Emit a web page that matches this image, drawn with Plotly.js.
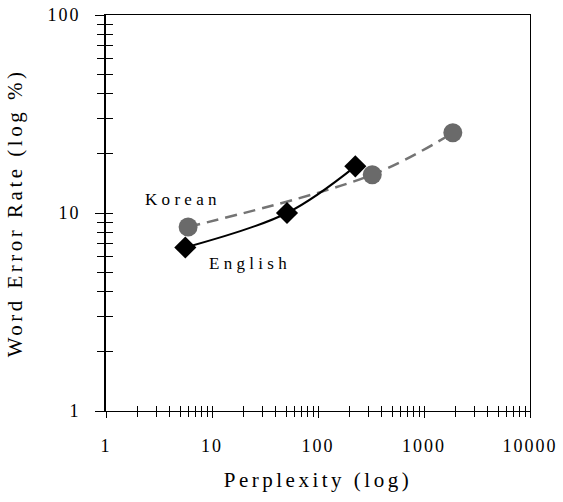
<!DOCTYPE html>
<html>
<head>
<meta charset="utf-8">
<script src="https://cdn.plot.ly/plotly-3.0.1.min.js"></script>
<style>
  html, body { margin: 0; padding: 0; background: #fff; }
  #chart { width: 563px; height: 502px; }
  .xtick text, .ytick text { letter-spacing: 2px; }
  .g-xtitle text, .g-ytitle text { letter-spacing: 3.5px; }
  .annotation-text { letter-spacing: 4.3px; }
</style>
</head>
<body>
<div id="chart"></div>
<script>
// Data (log-log)
const englishPerplexity = [5.6, 51, 225];
const englishWER = [6.7, 10.0, 17.2];
const koreanPerplexity = [5.95, 325, 1870];
const koreanWER = [8.5, 15.6, 25.4];
const xTickVals = [1, 10, 100, 1000, 10000];
const xTickText = ['1', '10', '100', '1000', '10000'];
const yTickVals = [1, 10, 100];
const yTickText = ['1', '10', '100'];
const tickDigits = [1, 2, 3, 4, 5, 6, 7, 8, 9];

// all 1..9 positions in each decade (for the inner half of the crossing ticks)
function allTicks(decades) {
  const out = [];
  decades.forEach(function (d, i) {
    if (i === decades.length - 1) { out.push(d); return; }
    tickDigits.forEach(function (k) { out.push(k * d); });
  });
  return out;
}
const xAllTicks = allTicks(xTickVals);
const yAllTicks = allTicks(yTickVals);

const serif = 'Liberation Serif';

const korean = {
  x: koreanPerplexity, y: koreanWER, xaxis: 'x', yaxis: 'y',
  mode: 'lines+markers', type: 'scatter', name: 'Korean',
  line: { color: '#747474', width: 2.5, dash: '12px,7px', shape: 'spline', smoothing: 1 },
  marker: { symbol: 'circle', size: 19, color: '#6a6a6a' },
  cliponaxis: false, showlegend: false
};
const english = {
  x: englishPerplexity, y: englishWER, xaxis: 'x2', yaxis: 'y2',
  mode: 'lines+markers', type: 'scatter', name: 'English',
  line: { color: '#000000', width: 2, shape: 'spline', smoothing: 1 },
  marker: { symbol: 'diamond', size: 17, color: '#000000' },
  cliponaxis: false, showlegend: false
};

const layout = {
  width: 563, height: 502,
  margin: { l: 106, r: 33, t: 15, b: 91 },
  paper_bgcolor: '#ffffff', plot_bgcolor: '#ffffff',
  font: { family: serif, color: '#000000' },
  xaxis: {
    type: 'log', range: [0, 4], showgrid: false, zeroline: false,
    tickvals: xTickVals, ticktext: xTickText,
    anchor: 'y', side: 'bottom',
    ticks: 'outside', ticklen: 6, tickwidth: 1, tickcolor: '#000',
    minor: { ticks: 'outside', ticklen: 5, tickwidth: 1, tickcolor: '#000', dtick: 'D1', showgrid: false },
    showline: true, linewidth: 1, linecolor: '#000', mirror: true,
    tickfont: { family: serif, size: 18, color: '#000' },
    ticklabelstandoff: 12,
    title: { text: 'Perplexity (log)', font: { family: serif, size: 21, color: '#000' }, standoff: 17 }
  },
  yaxis: {
    type: 'log', range: [0, 2], showgrid: false, zeroline: false,
    tickvals: yTickVals, ticktext: yTickText,
    anchor: 'x', side: 'left',
    ticks: 'outside', ticklen: 9, tickwidth: 1, tickcolor: '#000',
    minor: { ticks: 'outside', ticklen: 7, tickwidth: 1, tickcolor: '#000', dtick: 'D1', showgrid: false },
    showline: true, linewidth: 2, linecolor: '#000',
    tickfont: { family: serif, size: 18, color: '#000' },
    ticklabelstandoff: 11,
    title: { text: 'Word Error Rate (log %)', font: { family: serif, size: 21, color: '#000' }, standoff: 19 }
  },
  xaxis2: {
    type: 'log', range: [0, 4], showgrid: false, zeroline: false,
    tickmode: 'array', tickvals: xAllTicks,
    overlaying: 'x', anchor: 'y2', side: 'bottom',
    ticks: 'inside', ticklen: 5, tickwidth: 1, tickcolor: '#000',
    showticklabels: false, showline: false
  },
  yaxis2: {
    type: 'log', range: [0, 2], showgrid: false, zeroline: false,
    tickmode: 'array', tickvals: yAllTicks,
    overlaying: 'y', anchor: 'x2', side: 'left',
    ticks: 'inside', ticklen: 7, tickwidth: 1, tickcolor: '#000',
    showticklabels: false, showline: true, linewidth: 1, linecolor: '#000', mirror: true
  },
  annotations: [
    { text: 'Korean', x: Math.log10(5.3), y: Math.log10(11.7), xref: 'x', yref: 'y',
      showarrow: false, font: { family: serif, size: 17, color: '#000' } },
    { text: 'English', x: Math.log10(23), y: Math.log10(5.55), xref: 'x', yref: 'y',
      showarrow: false, font: { family: serif, size: 17, color: '#000' } }
  ]
};

Plotly.newPlot('chart', [korean, english], layout, { displayModeBar: false, staticPlot: true });
</script>
</body>
</html>
